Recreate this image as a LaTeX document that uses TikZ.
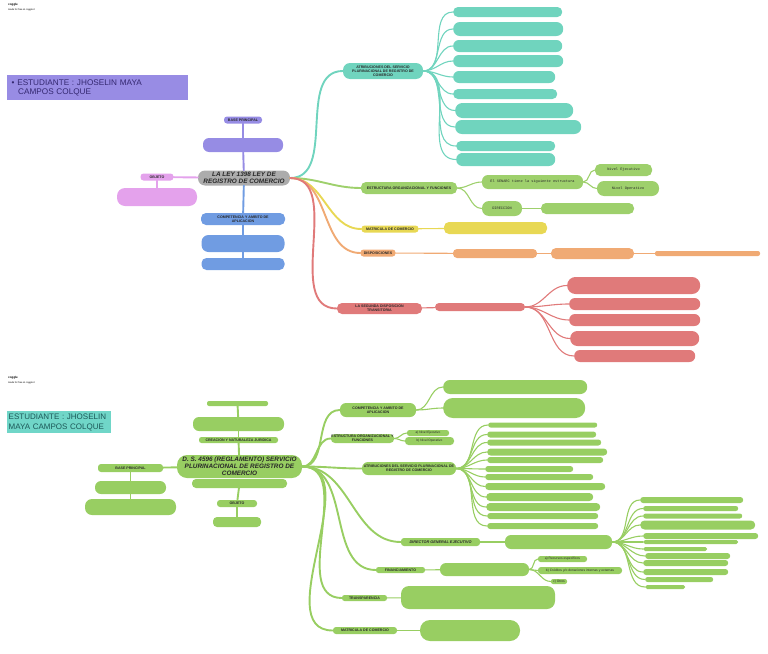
\documentclass[tikz,border=0pt]{standalone}
\usepackage{fontspec}
\setmainfont{Liberation Sans}
\setsansfont{Liberation Sans}
\setmonofont{Liberation Mono}

\definecolor{mapteal}{RGB}{112,212,190}
\definecolor{mapgreen}{RGB}{158,208,108}
\definecolor{mapgreentwo}{RGB}{152,206,98}
\definecolor{mapyellow}{RGB}{232,216,84}
\definecolor{maporange}{RGB}{240,170,116}
\definecolor{mapred}{RGB}{224,122,122}
\definecolor{mapblue}{RGB}{112,156,226}
\definecolor{maplilac}{RGB}{150,140,228}
\definecolor{mappink}{RGB}{228,162,236}
\definecolor{mapgray}{RGB}{172,172,172}
\definecolor{titlelilac}{RGB}{152,140,228}
\definecolor{titlelilactext}{RGB}{52,40,112}
\definecolor{titleteal}{RGB}{112,214,200}
\definecolor{titletealtext}{RGB}{28,88,88}
\definecolor{labeltext}{RGB}{40,40,40}

\begin{document}
\begin{tikzpicture}[x=1pt, y=-1pt,
    pill/.style={fill=#1, rounded corners=3pt, inner sep=0.5pt, align=center,
      text=labeltext, font=\bfseries\fontsize{3.6}{4.2}\selectfont},
    leaf/.style={fill=#1, inner sep=0pt, anchor=west},
    branch/.style={draw=#1, line width=1.9pt, line cap=round},
    twig/.style={draw=#1, line width=1.1pt, line cap=round},
    core/.style={fill=#1, rounded corners=7pt, inner sep=1pt, align=center,
      text=labeltext, font=\bfseries\itshape\fontsize{6.4}{7}\selectfont}]

    \useasboundingbox (0,0) rectangle (768,653);

    % ---------------- first map ----------------

    % Logo
    \node[anchor=north west, inner sep=0pt, font=\bfseries\fontsize{3}{3}\selectfont] (logoa) at (8,3) {coggle};
    \node[anchor=north west, inner sep=0pt, font=\fontsize{2.4}{2.4}\selectfont] (madea) at (8,9) {made for free at coggle.it};

    % Title
    \node[fill=titlelilac, anchor=north west, minimum width=181, minimum height=25,
      text width=172, align=left, inner sep=3pt, text=titlelilactext,
      font=\fontsize{8.2}{9.4}\selectfont] (titlea) at (7,75)
      {\textbullet\ ESTUDIANTE : JHOSELIN MAYA\\\hspace*{6.5pt}CAMPOS COLQUE};

    % Center
    \node[core=mapgray, minimum width=92, minimum height=15] (ley) at (244,178)
      {LA LEY 1398 LEY DE\\REGISTRO DE COMERCIO};

    % Base principal
    \node[pill=maplilac, minimum width=38, minimum height=7] (basea) at (243,120) {BASE PRINCIPAL};
    \node[pill=maplilac, minimum width=80, minimum height=14, rounded corners=6pt] (baseab) at (243,145) {};
    \draw[branch=maplilac] (basea) -- (baseab);
    \draw[branch=maplilac] (baseab) -- (ley);

    % Objeto
    \node[pill=mappink, minimum width=33, minimum height=7] (obja) at (157,177) {OBJETO};
    \node[pill=mappink, minimum width=80, minimum height=18, rounded corners=8pt] (objab) at (157,197) {};
    \draw[branch=mappink] (ley) -- (obja);
    \draw[branch=mappink] (obja) -- (objab);

    % Competencia
    \node[pill=mapblue, minimum width=84, minimum height=12, rounded corners=5pt] (compa) at (243,219)
      {COMPETENCIA Y AMBITO DE\\APLICACION};
    \node[pill=mapblue, minimum width=83, minimum height=17, rounded corners=7pt] (compab) at (243,243.5) {};
    \node[pill=mapblue, minimum width=83, minimum height=12, rounded corners=5pt] (compac) at (243,264) {};
    \draw[branch=mapblue] (ley) -- (compa);
    \draw[branch=mapblue] (compa) -- (compab);
    \draw[branch=mapblue] (compab) -- (compac);

    % Atribuciones
    \node[pill=mapteal, minimum width=80, minimum height=16, rounded corners=7pt] (atra) at (383,71)
      {ATRIBUCIONES DEL SERVICIO\\PLURINACIONAL DE REGISTRO DE\\COMERCIO};
    \draw[branch=mapteal] (ley.east) to[out=0, in=180] (atra.west);
    \foreach \n/\y/\x/\w/\h in {1/12/453/109/10, 2/29/453/110/14, 3/46/453/109/12,
        4/61/453/110/12, 5/77/453/102/12, 6/94/453/104/10, 7/110.5/455/118/15,
        8/127/455/126/14, 9/146/456/99/10, 10/159.5/456/99/13}{
      \node[leaf=mapteal, rounded corners={0.48*\h}, minimum width=\w, minimum height=\h] (atra\n) at (\x,\y) {};
      \draw[twig=mapteal] (atra.east) to[out=0, in=180] (atra\n.west);
    }

    % Estructura
    \node[pill=mapgreen, minimum width=96, minimum height=12, rounded corners=5pt] (estra) at (409,188)
      {ESTRUCTURA ORGANIZACIONAL Y FUNCIONES};
    \draw[branch=mapgreen] (ley.east) to[out=0, in=180] (estra.west);
    \node[pill=mapgreen, minimum width=101, minimum height=14, rounded corners=6pt,
      font=\ttfamily\fontsize{3.6}{4}\selectfont] (senarc) at (532.5,182) {El SENARC tiene la siguiente estructura};
    \node[pill=mapgreen, minimum width=40, minimum height=15, rounded corners=7pt,
      font=\ttfamily\fontsize{3.6}{4}\selectfont] (direca) at (502,208.5) {DIRECCION};
    \node[pill=mapgreen, minimum width=93, minimum height=11, rounded corners=5pt] (direcab) at (587.5,208.5) {};
    \node[pill=mapgreen, minimum width=57, minimum height=12, rounded corners=5pt,
      font=\ttfamily\fontsize{3.6}{4}\selectfont] (nivej) at (623.5,170) {Nivel Ejecutivo};
    \node[pill=mapgreen, minimum width=62, minimum height=15, rounded corners=7pt,
      font=\ttfamily\fontsize{3.6}{4}\selectfont] (nivop) at (628,188.5) {Nivel Operativo};
    \draw[twig=mapgreen] (estra.east) to[out=0, in=180] (senarc.west);
    \draw[twig=mapgreen] (estra.east) to[out=0, in=180] (direca.west);
    \draw[twig=mapgreen] (senarc.east) to[out=0, in=180] (nivej.west);
    \draw[twig=mapgreen] (senarc.east) to[out=0, in=180] (nivop.west);
    \draw[twig=mapgreen] (direca) -- (direcab);

    % Matricula
    \node[pill=mapyellow, minimum width=57, minimum height=7] (matra) at (390,229) {MATRICULA DE COMERCIO};
    \node[pill=mapyellow, minimum width=103, minimum height=12, rounded corners=5pt] (matrab) at (495.5,228) {};
    \draw[branch=mapyellow] (ley.east) to[out=0, in=180] (matra.west);
    \draw[twig=mapyellow] (matra) -- (matrab);

    % Disposiciones
    \node[pill=maporange, minimum width=35, minimum height=7] (dispa) at (378,253) {DISPOSICIONES};
    \node[pill=maporange, minimum width=84, minimum height=9, rounded corners=4pt] (dispb) at (495,253.5) {};
    \node[pill=maporange, minimum width=83, minimum height=11, rounded corners=5pt] (dispc) at (592.5,253.5) {};
    \node[pill=maporange, minimum width=105, minimum height=5, rounded corners=2pt] (dispd) at (707.5,253.5) {};
    \draw[branch=maporange] (ley.east) to[out=0, in=180] (dispa.west);
    \draw[twig=maporange] (dispa) -- (dispb);
    \draw[twig=maporange] (dispb) -- (dispc);
    \draw[twig=maporange] (dispc) -- (dispd);

    % Segunda disposicion
    \node[pill=mapred, minimum width=85, minimum height=11, rounded corners=5pt] (sega) at (379.5,308.5)
      {LA SEGUNDA DISPOSICION\\TRANSITORIA};
    \node[pill=mapred, minimum width=90, minimum height=8, rounded corners=4pt] (segab) at (480,307) {};
    \draw[branch=mapred] (ley.east) to[out=0, in=180] (sega.west);
    \draw[twig=mapred] (sega) -- (segab);
    \foreach \n/\y/\x/\w/\h in {1/285.5/567/133/17, 2/304/569/131/12, 3/320/569/131/12,
        4/338.5/570/129/15, 5/356/574/121/12}{
      \node[leaf=mapred, rounded corners={0.48*\h}, minimum width=\w, minimum height=\h] (sega\n) at (\x,\y) {};
      \draw[twig=mapred] (segab.east) to[out=0, in=180] (sega\n.west);
    }

    % ---------------- second map ----------------

    % Logo
    \node[anchor=north west, inner sep=0pt, font=\bfseries\fontsize{3}{3}\selectfont] (logob) at (8,376) {coggle};
    \node[anchor=north west, inner sep=0pt, font=\fontsize{2.4}{2.4}\selectfont] (madeb) at (8,382) {made for free at coggle.it};

    % Title
    \node[fill=titleteal, anchor=north west, minimum width=103, minimum height=22,
      text width=101, align=left, inner sep=1.5pt, text=titletealtext,
      font=\fontsize{8}{9.6}\selectfont] (titleb) at (7,411)
      {ESTUDIANTE : JHOSELIN\\MAYA CAMPOS COLQUE};

    % Center
    \node[core=mapgreentwo, minimum width=125, minimum height=23, rounded corners=10pt] (ds) at (239.5,466.5)
      {D. S. 4596 (REGLAMENTO) SERVICIO\\PLURINACIONAL DE REGISTRO DE\\COMERCIO};
    \node[pill=mapgreentwo, minimum width=95, minimum height=9, rounded corners=4pt] (dsb) at (239.5,483.5) {};

    % Creacion
    \node[pill=mapgreentwo, minimum width=79, minimum height=6, rounded corners=2.5pt] (creac) at (238.5,440)
      {CREACION Y NATURALEZA JURIDICA};
    \node[pill=mapgreentwo, minimum width=91, minimum height=14, rounded corners=6pt] (creacb) at (238.5,424) {};
    \node[pill=mapgreentwo, minimum width=61, minimum height=5, rounded corners=2pt] (creacc) at (237.5,403.5) {};
    \draw[branch=mapgreentwo] (ds) -- (creac);
    \draw[branch=mapgreentwo] (creac) -- (creacb);
    \draw[branch=mapgreentwo] (creacb) -- (creacc);

    % Objeto
    \node[pill=mapgreentwo, minimum width=40, minimum height=7] (objb) at (237,503.5) {OBJETO};
    \node[pill=mapgreentwo, minimum width=48, minimum height=10, rounded corners=4pt] (objbb) at (237,522) {};
    \draw[branch=mapgreentwo] (dsb) -- (objb);
    \draw[branch=mapgreentwo] (objb) -- (objbb);

    % Base principal
    \node[pill=mapgreentwo, minimum width=65, minimum height=8] (baseb) at (130.5,468) {BASE PRINCIPAL};
    \node[pill=mapgreentwo, minimum width=71, minimum height=13, rounded corners=6pt] (basebb) at (130.5,487.5) {};
    \node[pill=mapgreentwo, minimum width=91, minimum height=16, rounded corners=7pt] (basebc) at (130.5,507) {};
    \draw[branch=mapgreentwo] (ds) -- (baseb);
    \draw[branch=mapgreentwo] (baseb) -- (basebb);
    \draw[branch=mapgreentwo] (basebb) -- (basebc);

    % Competencia
    \node[pill=mapgreentwo, minimum width=76, minimum height=14, rounded corners=6pt] (compb) at (378,410)
      {COMPETENCIA Y AMBITO DE\\APLICACION};
    \draw[branch=mapgreentwo] (ds.east) to[out=0, in=180] (compb.west);
    \foreach \n/\y/\x/\w/\h in {1/387/443/144/14, 2/408/443/142/20}{
      \node[leaf=mapgreentwo, rounded corners={0.48*\h}, minimum width=\w, minimum height=\h] (compb\n) at (\x,\y) {};
      \draw[twig=mapgreentwo] (compb.east) to[out=0, in=180] (compb\n.west);
    }

    % Estructura
    \node[pill=mapgreentwo, minimum width=61, minimum height=9, rounded corners=4pt] (estrb) at (362.5,438.5)
      {ESTRUCTURA ORGANIZACIONAL Y\\FUNCIONES};
    \node[pill=mapgreentwo, minimum width=42, minimum height=6, rounded corners=2.5pt,
      font=\fontsize{3.2}{3.6}\selectfont] (estrb1) at (428,433) {a) Nivel Ejecutivo};
    \node[pill=mapgreentwo, minimum width=49, minimum height=8, rounded corners=3.5pt,
      font=\fontsize{3.2}{3.6}\selectfont] (estrb2) at (429.5,441) {b) Nivel Operativo};
    \draw[branch=mapgreentwo] (ds.east) to[out=0, in=180] (estrb.west);
    \draw[twig=mapgreentwo] (estrb.east) to[out=0, in=180] (estrb1.west);
    \draw[twig=mapgreentwo] (estrb.east) to[out=0, in=180] (estrb2.west);

    % Atribuciones
    \node[pill=mapgreentwo, minimum width=94, minimum height=13, rounded corners=6pt] (atrb) at (409,468.5)
      {ATRIBUCIONES DEL SERVICIO PLURINACIONAL DE\\REGISTRO DE COMERCIO};
    \draw[branch=mapgreentwo] (ds.east) to[out=0, in=180] (atrb.west);
    \foreach \n/\y/\x/\w/\h in {1/425/488/109/5, 2/434.5/487/109/6, 3/442.5/487/114/6,
        4/452/487/120/7, 5/460/487/116/6, 6/469/485/88/6, 7/477/485/108/6,
        8/486.5/485/120/7, 9/497/486/107/8, 10/507/486/114/8, 11/516/487/111/6,
        12/526/487/111/6}{
      \node[leaf=mapgreentwo, rounded corners={0.48*\h}, minimum width=\w, minimum height=\h] (atrb\n) at (\x,\y) {};
      \draw[twig=mapgreentwo] (atrb.east) to[out=0, in=180] (atrb\n.west);
    }

    % Director general
    \node[pill=mapgreentwo, minimum width=79, minimum height=8, font=\bfseries\itshape\fontsize{3.8}{4.2}\selectfont] (dirb) at (440.5,542)
      {DIRECTOR GENERAL EJECUTIVO};
    \node[pill=mapgreentwo, minimum width=107, minimum height=14, rounded corners=6pt] (dirbb) at (558.5,542) {};
    \draw[branch=mapgreentwo] (ds.east) to[out=0, in=180] (dirb.west);
    \draw[twig=mapgreentwo] (dirb) -- (dirbb);
    \foreach \n/\y/\x/\w/\h in {1/500/640/103/6, 2/508.5/643/95/5, 3/516/643/99/5,
        4/525/640/115/9, 5/536/643/115/6, 6/542/643/95/4, 7/549/643/64/4,
        8/556/645/85/6, 9/563/643/85/6, 10/572/643/85/6, 11/579.5/645/68/5,
        12/587/645/40/4}{
      \node[leaf=mapgreentwo, rounded corners={0.48*\h}, minimum width=\w, minimum height=\h] (dirb\n) at (\x,\y) {};
      \draw[twig=mapgreentwo] (dirbb.east) to[out=0, in=180] (dirb\n.west);
    }

    % Financiamiento
    \node[pill=mapgreentwo, minimum width=49, minimum height=6, rounded corners=2.5pt] (finb) at (400.5,570) {FINANCIAMIENTO};
    \node[pill=mapgreentwo, minimum width=89, minimum height=13, rounded corners=6pt] (finbb) at (484.5,569.5) {};
    \node[pill=mapgreentwo, minimum width=49, minimum height=6, rounded corners=2.5pt,
      font=\fontsize{3.3}{3.6}\selectfont] (finb1) at (562.5,559) {a) Recursos específicos};
    \node[pill=mapgreentwo, minimum width=84, minimum height=7, rounded corners=3pt,
      font=\fontsize{3.3}{3.6}\selectfont] (finb2) at (580,570.5) {b) Créditos y/o donaciones internas y externas};
    \node[pill=mapgreentwo, minimum width=16, minimum height=5, rounded corners=2pt,
      font=\fontsize{3.3}{3.6}\selectfont] (finb3) at (559,581.5) {c) Otros};
    \draw[branch=mapgreentwo] (ds.east) to[out=0, in=180] (finb.west);
    \draw[twig=mapgreentwo] (finb) -- (finbb);
    \draw[twig=mapgreentwo] (finbb.east) to[out=0, in=180] (finb1.west);
    \draw[twig=mapgreentwo] (finbb.east) to[out=0, in=180] (finb2.west);
    \draw[twig=mapgreentwo] (finbb.east) to[out=0, in=180] (finb3.west);

    % Transparencia
    \node[pill=mapgreentwo, minimum width=45, minimum height=6, rounded corners=2.5pt] (transb) at (364.5,598) {TRANSPARENCIA};
    \node[pill=mapgreentwo, minimum width=154, minimum height=23, rounded corners=8pt] (transbb) at (478,597.5) {};
    \draw[branch=mapgreentwo] (ds.east) to[out=0, in=180] (transb.west);
    \draw[twig=mapgreentwo] (transb) -- (transbb);

    % Matricula
    \node[pill=mapgreentwo, minimum width=64, minimum height=7] (matrb) at (365,630.5) {MATRICULA DE COMERCIO};
    \node[pill=mapgreentwo, minimum width=100, minimum height=21, rounded corners=10pt] (matrbb) at (470,630.5) {};
    \draw[branch=mapgreentwo] (ds.east) to[out=0, in=180] (matrb.west);
    \draw[twig=mapgreentwo] (matrb) -- (matrbb);

\end{tikzpicture}
\end{document}
